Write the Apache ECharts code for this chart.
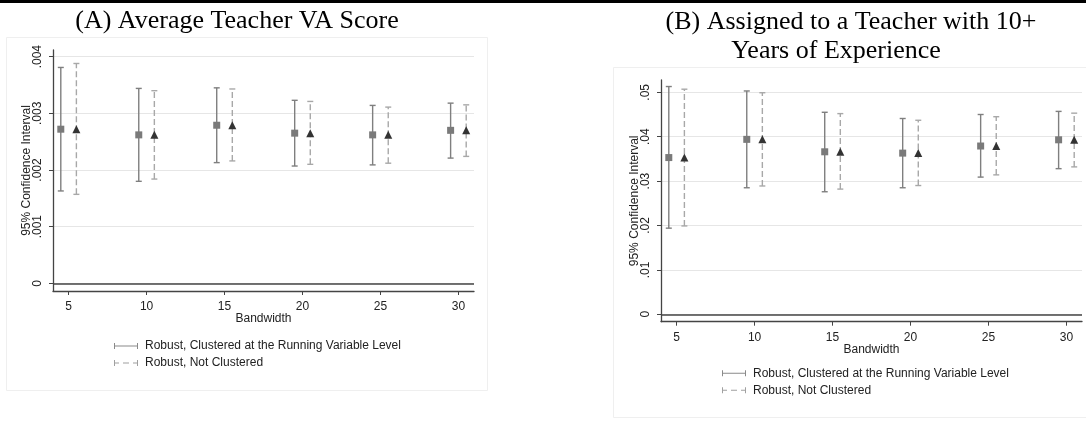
<!DOCTYPE html>
<html>
<head>
<meta charset="utf-8">
<script src="https://cdn.jsdelivr.net/npm/echarts@6/dist/echarts.min.js"></script>
<style>
  html, body { margin: 0; padding: 0; background: #fff; }
  #chart { width: 1086px; height: 424px; }
</style>
</head>
<body>
<div id="chart"></div>
<script>
// Bandwidths at which the discontinuity was estimated
const bandwidths = [5, 10, 15, 20, 25, 30];
const xTicks = [5, 10, 15, 20, 25, 30];

// Panel A: average teacher VA score (point estimate and 95% CI bounds)
const estA   = [0.00272, 0.00262, 0.00279, 0.00265, 0.00262, 0.00270];
const loA_cl = [0.00163, 0.00180, 0.00213, 0.00207, 0.00209, 0.00221];
const hiA_cl = [0.00381, 0.00344, 0.00345, 0.00323, 0.00314, 0.00318];
const loA_nc = [0.00157, 0.00184, 0.00216, 0.00210, 0.00212, 0.00224];
const hiA_nc = [0.00388, 0.00340, 0.00343, 0.00321, 0.00311, 0.00315];
const yTicksA = [0, 0.001, 0.002, 0.003, 0.004];

// Panel B: assigned to a teacher with 10+ years of experience
const estB   = [0.0353, 0.0394, 0.0366, 0.0363, 0.0379, 0.0393];
const loB_cl = [0.0194, 0.0285, 0.0276, 0.0285, 0.0309, 0.0328];
const hiB_cl = [0.0513, 0.0503, 0.0455, 0.0441, 0.0450, 0.0457];
const loB_nc = [0.0199, 0.0289, 0.0282, 0.0290, 0.0314, 0.0332];
const hiB_nc = [0.0507, 0.0499, 0.0452, 0.0437, 0.0445, 0.0453];
const yTicksB = [0, 0.01, 0.02, 0.03, 0.04, 0.05];

const NAME_CL = 'Robust, Clustered at the Running Variable Level';
const NAME_NC = 'Robust, Not Clustered';
const SANS = '"Liberation Sans", Arial, sans-serif';
const SERIF = '"Liberation Serif", "Times New Roman", serif';

const COL_CL = '#7f7f7f';
const COL_NC = '#a8a8a8';
const COL_SQ = '#7a7a7a';
const COL_TRI = '#333333';
const AXIS_COL = '#444444';

// Stata-style tick labels: ".004", ".05", "0"
function fmtTick(v) {
  if (Math.abs(v) < 1e-12) return '0';
  return String(+v.toFixed(4)).replace(/^0\./, '.');
}

function errorBars(name, gi, lows, highs, shift, color, dash) {
  return {
    type: 'custom',
    name: name,
    xAxisIndex: gi,
    yAxisIndex: gi,
    z: 2,
    data: bandwidths.map((b, i) => [b + shift, lows[i], highs[i]]),
    encode: { x: 0, y: [1, 2] },
    renderItem: function (params, api) {
      const x = api.value(0);
      const lo = api.coord([x, api.value(1)]);
      const hi = api.coord([x, api.value(2)]);
      const w = 3;
      const base = { stroke: color, lineWidth: 1.4, fill: null };
      const stem = Object.assign({}, base);
      if (dash) stem.lineDash = dash;
      return {
        type: 'group',
        children: [
          { type: 'line', shape: { x1: lo[0], y1: lo[1], x2: hi[0], y2: hi[1] }, style: stem },
          { type: 'line', shape: { x1: hi[0] - w, y1: hi[1], x2: hi[0] + w, y2: hi[1] }, style: base },
          { type: 'line', shape: { x1: lo[0] - w, y1: lo[1], x2: lo[0] + w, y2: lo[1] }, style: base }
        ]
      };
    }
  };
}

function points(name, gi, est, shift, symbol, size, color, withZero) {
  const s = {
    type: 'scatter',
    name: name,
    xAxisIndex: gi,
    yAxisIndex: gi,
    z: 3,
    symbol: symbol,
    symbolSize: size,
    itemStyle: { color: color, opacity: 1 },
    data: bandwidths.map((b, i) => [b + shift, est[i]])
  };
  if (withZero) {
    // reference line at zero
    s.markLine = {
      silent: true,
      symbol: 'none',
      label: { show: false },
      lineStyle: { color: AXIS_COL, width: 1.5, type: 'solid' },
      data: [{ yAxis: 0 }]
    };
  }
  return s;
}

function xAxisFor(gi) {
  return {
    type: 'value', gridIndex: gi, min: 4, max: 31,
    axisLine: { onZero: false, lineStyle: { color: AXIS_COL, width: 1.3 } },
    axisTick: { customValues: xTicks, length: 4, lineStyle: { color: AXIS_COL } },
    axisLabel: { customValues: xTicks, color: '#222', fontSize: 12, fontFamily: SANS, margin: 10 },
    splitLine: { show: false },
    name: 'Bandwidth', nameLocation: 'middle', nameGap: 22, nameMoveOverlap: false,
    nameTextStyle: { color: '#222', fontSize: 12, fontFamily: SANS }
  };
}

function yAxisFor(gi, min, max, ticks) {
  return {
    type: 'value', gridIndex: gi, min: min, max: max,
    axisLine: { show: true, onZero: false, lineStyle: { color: AXIS_COL, width: 1.3 } },
    axisTick: { show: true, customValues: ticks, length: 4, lineStyle: { color: AXIS_COL } },
    axisLabel: { customValues: ticks, rotate: 90, color: '#222', fontSize: 12, fontFamily: SANS, margin: 9, formatter: fmtTick },
    splitLine: { show: true, lineStyle: { color: '#e6e6e6', width: 1 } },
    name: '95% Confidence Interval', nameLocation: 'middle', nameGap: 20, nameMoveOverlap: false,
    nameTextStyle: { color: '#222', fontSize: 12, fontFamily: SANS }
  };
}

const ICON_CL = 'path://M0,0h1v6h-1z M0,2.5h24v1h-24z M23,0h1v6h-1z';
const ICON_NC = 'path://M0,0h1v6h-1z M0,2.5h5v1h-5z M9,2.5h6v1h-6z M19,2.5h5v1h-5z M23,0h1v6h-1z';

function legendFor(left, top) {
  return {
    orient: 'vertical', left: left, top: top,
    itemWidth: 24, itemHeight: 6, itemGap: 5, padding: 0,
    selectedMode: false,
    textStyle: { color: '#222', fontSize: 12, fontFamily: SANS, padding: [0, 0, 0, 2] },
    data: [
      { name: NAME_CL, icon: ICON_CL, itemStyle: { color: '#8a8a8a' } },
      { name: NAME_NC, icon: ICON_NC, itemStyle: { color: '#a0a0a0' } }
    ]
  };
}

const option = {
  backgroundColor: '#ffffff',
  animation: false,
  graphic: [
    { type: 'rect', z: -10, shape: { x: 0, y: 0, width: 1086, height: 3 }, style: { fill: '#000' } },
    { type: 'rect', z: -10, shape: { x: 6.5, y: 37.5, width: 481, height: 353 }, style: { fill: '#fff', stroke: '#efefef', lineWidth: 1 } },
    { type: 'rect', z: -10, shape: { x: 613.5, y: 67.5, width: 480, height: 350 }, style: { fill: '#fff', stroke: '#efefef', lineWidth: 1 } },
    { type: 'text', x: 237, y: 21, style: { text: '(A) Average Teacher VA Score', fill: '#000', fontSize: 26, fontFamily: SERIF, align: 'center', verticalAlign: 'middle' } },
    { type: 'text', x: 851, y: 22, style: { text: '(B) Assigned to a Teacher with 10+', fill: '#000', fontSize: 26, fontFamily: SERIF, align: 'center', verticalAlign: 'middle' } },
    { type: 'text', x: 836, y: 51, style: { text: 'Years of Experience', fill: '#000', fontSize: 26, fontFamily: SERIF, align: 'center', verticalAlign: 'middle' } }
  ],
  grid: [
    { left: 53, top: 50, width: 421, height: 241, outerBoundsMode: 'none' },
    { left: 661, top: 80, width: 421, height: 241.7, outerBoundsMode: 'none' }
  ],
  xAxis: [xAxisFor(0), xAxisFor(1)],
  yAxis: [
    yAxisFor(0, -0.000136, 0.004118, yTicksA),
    yAxisFor(1, -0.00167, 0.05277, yTicksB)
  ],
  legend: [legendFor(114, 340), legendFor(722, 367.2)],
  series: [
    errorBars(NAME_CL, 0, loA_cl, hiA_cl, -0.5, COL_CL, null),
    errorBars(NAME_NC, 0, loA_nc, hiA_nc, 0.5, COL_NC, [6, 3]),
    points('Estimate (clustered)', 0, estA, -0.5, 'rect', 7, COL_SQ, true),
    points('Estimate (not clustered)', 0, estA, 0.5, 'triangle', 8, COL_TRI, false),
    errorBars(NAME_CL, 1, loB_cl, hiB_cl, -0.5, COL_CL, null),
    errorBars(NAME_NC, 1, loB_nc, hiB_nc, 0.5, COL_NC, [6, 3]),
    points('Estimate (clustered)', 1, estB, -0.5, 'rect', 7, COL_SQ, true),
    points('Estimate (not clustered)', 1, estB, 0.5, 'triangle', 8, COL_TRI, false)
  ]
};

const chart = echarts.init(document.getElementById('chart'), null, { renderer: 'canvas' });
chart.setOption(option);
</script>
</body>
</html>
